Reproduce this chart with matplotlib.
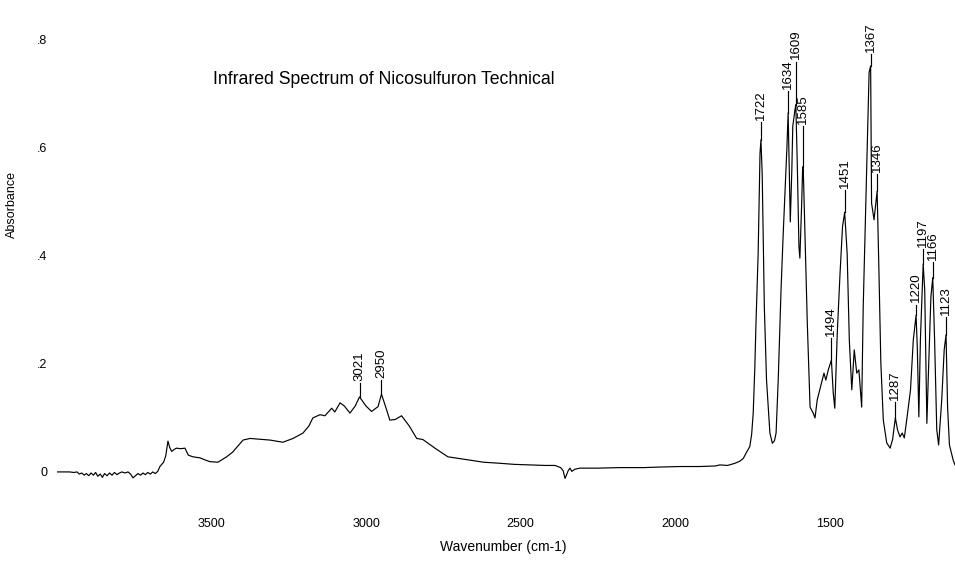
import matplotlib
matplotlib.use("Agg")
import matplotlib.pyplot as plt

plt.rcParams['font.family'] = ['Liberation Sans', 'DejaVu Sans']

wavenumber = [
    4000, 3990, 3975, 3960, 3945, 3935, 3928, 3920, 3912, 3905, 3897, 3890, 3882, 3875,
    3868, 3860, 3853, 3846, 3838, 3830, 3822, 3814, 3806, 3798, 3790, 3780, 3770, 3762,
    3754, 3746, 3738, 3730, 3722, 3714, 3706, 3698, 3690, 3682, 3674, 3667, 3655, 3648,
    3641, 3635, 3629, 3620, 3613, 3600, 3586, 3575, 3560, 3537, 3520, 3505, 3479, 3451,
    3431, 3398, 3375, 3354, 3311, 3269, 3236, 3204, 3185, 3172, 3149, 3133, 3111, 3101,
    3084, 3070, 3052, 3035, 3021, 3000, 2982, 2961, 2950, 2935, 2923, 2906, 2885, 2860,
    2836, 2816, 2777, 2735, 2700, 2664, 2620, 2567, 2520, 2470, 2420, 2389, 2370, 2362,
    2356, 2350, 2346, 2340, 2334, 2324, 2308, 2250, 2178, 2100, 2050, 1984, 1920, 1870,
    1855, 1830, 1806, 1790, 1779, 1770, 1758, 1752, 1747, 1742, 1738, 1731, 1725, 1722,
    1718, 1711, 1704, 1693, 1685, 1678, 1673, 1666, 1657, 1650, 1644, 1638, 1634, 1630,
    1627, 1622, 1619, 1612, 1609, 1604, 1599, 1596, 1590, 1587, 1585, 1580, 1572, 1563,
    1553, 1547, 1540, 1529, 1518, 1512, 1504, 1494, 1488, 1483, 1475, 1466, 1458, 1451,
    1443, 1436, 1428, 1420, 1412, 1405, 1396, 1391, 1383, 1378, 1372, 1367, 1364, 1356,
    1346, 1340, 1334, 1326, 1315, 1304, 1296, 1287, 1280, 1272, 1265, 1258, 1249, 1238,
    1229, 1220, 1216, 1211, 1206, 1197, 1192, 1185, 1180, 1172, 1166, 1160, 1153, 1147,
    1137, 1129, 1123, 1118, 1112, 1100, 1094,
]
absorbance = [
    0.000, 0.000, 0.000, 0.000, -0.001, 0.000, -0.004, -0.002, -0.006, -0.003, -0.007, -0.002, -0.006, -0.001,
    -0.008, -0.004, -0.010, -0.003, -0.007, -0.002, -0.006, -0.001, -0.005, -0.002, 0.000, -0.002, 0.000, -0.004,
    -0.011, -0.007, -0.003, -0.006, -0.002, -0.005, -0.001, -0.004, 0.000, -0.003, 0.001, 0.010, 0.018, 0.030,
    0.057, 0.045, 0.038, 0.042, 0.044, 0.043, 0.044, 0.031, 0.028, 0.026, 0.022, 0.019, 0.018, 0.028,
    0.037, 0.059, 0.062, 0.061, 0.059, 0.055, 0.062, 0.072, 0.085, 0.100, 0.106, 0.104, 0.118, 0.111,
    0.128, 0.122, 0.109, 0.122, 0.139, 0.122, 0.112, 0.121, 0.144, 0.118, 0.096, 0.097, 0.104, 0.085,
    0.062, 0.060, 0.044, 0.028, 0.025, 0.022, 0.018, 0.016, 0.014, 0.013, 0.012, 0.012, 0.008, 0.002,
    -0.012, -0.004, 0.002, 0.007, 0.001, 0.005, 0.007, 0.007, 0.008, 0.008, 0.009, 0.010, 0.010, 0.011,
    0.013, 0.012, 0.016, 0.020, 0.025, 0.035, 0.047, 0.070, 0.109, 0.190, 0.276, 0.405, 0.590, 0.615,
    0.553, 0.306, 0.171, 0.072, 0.053, 0.058, 0.072, 0.171, 0.337, 0.440, 0.522, 0.600, 0.665, 0.550,
    0.463, 0.560, 0.640, 0.670, 0.680, 0.560, 0.417, 0.396, 0.500, 0.565, 0.560, 0.448, 0.276, 0.120,
    0.109, 0.100, 0.133, 0.158, 0.183, 0.170, 0.189, 0.207, 0.146, 0.118, 0.257, 0.368, 0.454, 0.481,
    0.405, 0.244, 0.152, 0.226, 0.183, 0.189, 0.120, 0.306, 0.491, 0.600, 0.740, 0.752, 0.498, 0.467,
    0.520, 0.368, 0.202, 0.096, 0.054, 0.044, 0.060, 0.100, 0.078, 0.065, 0.072, 0.063, 0.102, 0.152,
    0.244, 0.290, 0.231, 0.102, 0.244, 0.385, 0.337, 0.090, 0.183, 0.324, 0.360, 0.244, 0.078, 0.050,
    0.133, 0.226, 0.254, 0.120, 0.050, 0.022, 0.013,
]

peak_labels = ["3021", "2950", "1722", "1634", "1609", "1585", "1494", "1451",
               "1367", "1346", "1287", "1220", "1197", "1166", "1123"]
peak_wn = [3021, 2950, 1722, 1634, 1609, 1585, 1494, 1451,
           1367, 1346, 1287, 1220, 1197, 1166, 1123]
peak_abs = [0.139, 0.144, 0.615, 0.665, 0.680, 0.565, 0.207, 0.481,
            0.752, 0.520, 0.100, 0.290, 0.385, 0.360, 0.254]
label_abs = [0.165, 0.170, 0.648, 0.705, 0.760, 0.640, 0.248, 0.522,
             0.774, 0.552, 0.130, 0.310, 0.412, 0.389, 0.287]

x_ticks = [3500, 3000, 2500, 2000, 1500]
y_ticks = [0, 0.2, 0.4, 0.6, 0.8]
y_tick_labels = ["0", ".2", ".4", ".6", ".8"]

W, H = 955, 568
fig = plt.figure(figsize=(W / 100, H / 100), dpi=100, facecolor='white')
ax = fig.add_axes([57 / W, 68 / H, 898 / W, 500 / H])
ax.plot(wavenumber, absorbance, color='black', lw=0.85)
ax.set_xlim(4000, 1094)
ax.set_ylim(-0.052, 0.874)
for s in ax.spines.values():
    s.set_visible(False)
ax.set_xticks(x_ticks)
ax.set_xticklabels([str(t) for t in x_ticks])
ax.set_yticks(y_ticks)
ax.set_yticklabels(y_tick_labels)
ax.tick_params(length=0, labelsize=9)
ax.tick_params(axis='x', pad=13)
ax.tick_params(axis='y', pad=7)

for lab, w, p, l in zip(peak_labels, peak_wn, peak_abs, label_abs):
    ax.plot([w, w], [p, l], color='black', lw=0.85)
    ax.text(w, l + 0.004, lab, rotation=90, ha='center', va='bottom', fontsize=9.5)

fig.text(213 / W, 1 - 80 / H, "Infrared Spectrum of Nicosulfuron Technical",
         ha='left', va='center', fontsize=12.7)
fig.text(12 / W, 1 - 204 / H, "Absorbance", rotation=90, ha='center', va='center', fontsize=9)
fig.text(503 / W, 1 - 547 / H, "Wavenumber (cm-1)", ha='center', va='center', fontsize=10)

fig.savefig("out.png", dpi=100, facecolor='white')
